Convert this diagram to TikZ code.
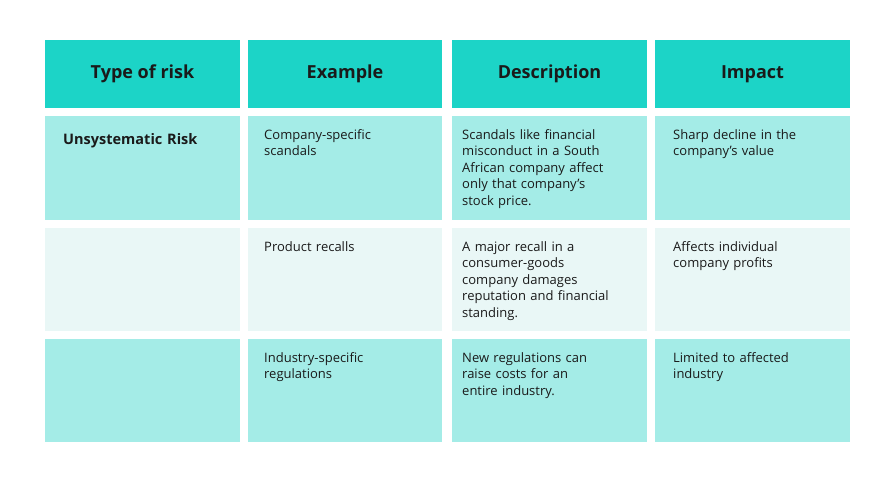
\documentclass[tikz,border=0pt]{standalone}
\usepackage{fontspec}
\setmainfont{Open Sans}
\definecolor{head}{HTML}{1CD4C7}
\definecolor{rowa}{HTML}{A4ECE7}
\definecolor{rowb}{HTML}{E9F7F6}
\definecolor{txt}{HTML}{1A1A1A}
\tikzset{
 cell/.style={anchor=north west,inner sep=0pt,minimum width=#1,minimum height=0pt},
 hdr/.style={font=\fontsize{18}{22}\selectfont\bfseries,text=txt},
 body/.style={anchor=north west,inner sep=0pt,align=left,text width=170pt,font=\fontsize{13}{16.5}\selectfont,text=txt},
}
\begin{document}
\begin{tikzpicture}[x=1pt,y=-1pt]
\useasboundingbox (0,0) rectangle (890,476);
% backgrounds
\foreach \xa/\xb in {45/240,248/442,452/647,655/850}{
  \fill[head] (\xa,40) rectangle (\xb,108);
  \fill[rowa] (\xa,116) rectangle (\xb,220);
  \fill[rowb] (\xa,228) rectangle (\xb,331);
  \fill[rowa] (\xa,339) rectangle (\xb,442);
}
\node[hdr] (h1) at (142.5,74) {Type of risk};
\node[hdr] (h2) at (345,74) {Example};
\node[hdr] (h3) at (549.5,74) {Description};
\node[hdr] (h4) at (752.5,74) {Impact};
\node[body,font=\fontsize{14.5}{17}\selectfont\bfseries] (r1c1) at (63,133) {Unsystematic Risk};
\node[body] (r1c2) at (264,129) {Company-specific\\scandals};
\node[body] (r1c3) at (462,129) {Scandals like financial\\misconduct in a South\\African company affect\\only that company's\\stock price.};
\node[body] (r1c4) at (673,129) {Sharp decline in the\\company's value};
\node[body] (r2c2) at (264,241) {Product recalls};
\node[body] (r2c3) at (462,241) {A major recall in a\\consumer-goods\\company damages\\reputation and financial\\standing.};
\node[body] (r2c4) at (673,241) {Affects individual\\company profits};
\node[body] (r3c2) at (264,352) {Industry-specific\\regulations};
\node[body] (r3c3) at (462,352) {New regulations can\\raise costs for an\\entire industry.};
\node[body] (r3c4) at (673,352) {Limited to affected\\industry};
\end{tikzpicture}
\end{document}
